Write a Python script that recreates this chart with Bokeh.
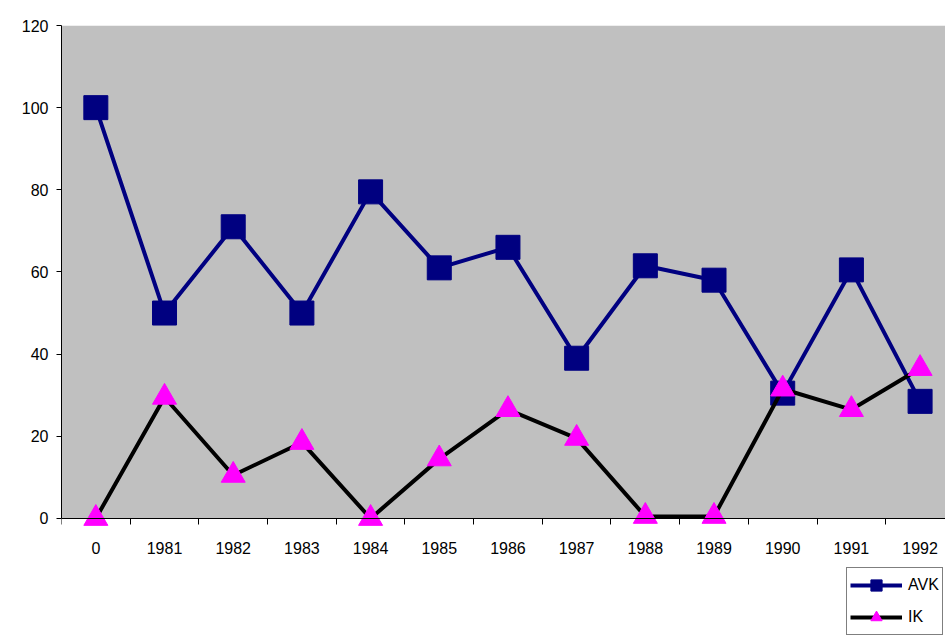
from bokeh.plotting import figure
from bokeh.models import FixedTicker, Legend, LegendItem, Range1d, ColumnDataSource, BoxAnnotation
from bokeh.embed import file_html
from bokeh.resources import INLINE

categories = ["0", "1981", "1982", "1983", "1984", "1985", "1986", "1987",
              "1988", "1989", "1990", "1991", "1992"]
avk = [100, 50, 71, 50, 79.5, 61, 66, 39, 61.5, 58, 30.5, 60.5, 28.5]
ik = [0, 29.5, 10.5, 18.5, 0, 14.5, 26.5, 19.5, 0.5, 0.5, 31.5, 26.5, 36.5]
y_ticks = [0, 20, 40, 60, 80, 100, 120]

xs = list(range(len(categories)))
src = ColumnDataSource(dict(x=xs, avk=avk, ik=ik))

p = figure(width=945, height=635, output_backend="svg", toolbar_location=None,
           x_range=Range1d(-0.5, 12.37), y_range=Range1d(-28.5, 120),
           min_border_left=61, min_border_top=25, min_border_right=0,
           min_border_bottom=0)
p.background_fill_color = "white"
p.border_fill_color = "white"
p.outline_line_color = None

# grey plot area from the zero line upwards
p.add_layout(BoxAnnotation(bottom=0, fill_color="#C0C0C0", fill_alpha=1,
                           line_color=None, level="underlay"))

# axes
xa = p.xaxis[0]
xa.fixed_location = 0
xa.ticker = FixedTicker(ticks=xs, minor_ticks=[i - 0.5 for i in range(len(categories) + 1)])
xa.major_label_overrides = {i: c for i, c in enumerate(categories)}
xa.major_tick_line_color = None
xa.major_tick_out = 0
xa.major_tick_in = 0
xa.minor_tick_out = 6
xa.minor_tick_in = 0
xa.minor_tick_line_color = "black"
xa.axis_line_color = "black"
xa.major_label_standoff = 18
xa.major_label_text_font = "Liberation Sans"
xa.major_label_text_font_size = "16px"
xa.major_label_text_color = "black"

ya = p.yaxis[0]
ya.ticker = FixedTicker(ticks=y_ticks, minor_ticks=[])
ya.bounds = (0, 120)
ya.major_tick_out = 5
ya.major_tick_in = 0
ya.major_tick_line_color = "black"
ya.axis_line_color = "black"
ya.major_label_standoff = 8
ya.major_label_text_font = "Liberation Sans"
ya.major_label_text_font_size = "16px"
ya.major_label_text_color = "black"

p.xgrid.grid_line_color = None
p.ygrid.grid_line_color = "black"
p.ygrid.grid_line_width = 1
p.ygrid.ticker = FixedTicker(ticks=[20, 40, 60, 80, 100])

# series
l1 = p.line("x", "avk", source=src, line_color="#000080", line_width=4)
m1 = p.scatter("x", "avk", source=src, marker="square", size=24,
               fill_color="#000080", line_color="#000080")
l2 = p.line("x", "ik", source=src, line_color="black", line_width=4)
m2 = p.scatter("x", "ik", source=src, marker="triangle", size=24,
               fill_color="#FF00FF", line_color="#FF00FF")

legend = Legend(items=[LegendItem(label="AVK", renderers=[l1, m1]),
                       LegendItem(label="IK", renderers=[l2, m2])],
                location=(785, 0), orientation="vertical",
                border_line_color="black", border_line_width=1,
                background_fill_color="white", background_fill_alpha=1,
                padding=3, margin=0, spacing=4, glyph_height=28, glyph_width=52,
                label_standoff=6, label_text_font="Liberation Sans",
                label_text_font_size="16px", label_text_color="black")
p.add_layout(legend, "center")

open("out.html", "w").write(file_html(p, INLINE))
